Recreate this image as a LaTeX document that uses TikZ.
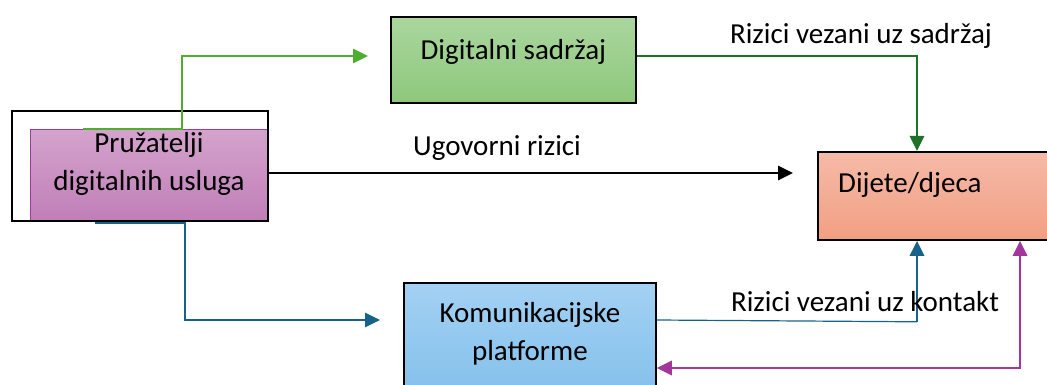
\documentclass[tikz,border=0pt]{standalone}
\usepackage{fontspec}
\setmainfont{Carlito}
\usetikzlibrary{arrows.meta,calc}

\definecolor{pruTop}{HTML}{D4A3CD}
\definecolor{pruBot}{HTML}{C07FB7}
\definecolor{pruLine}{HTML}{9C3C98}
\definecolor{digTop}{HTML}{AAD69E}
\definecolor{digBot}{HTML}{8EC87C}
\definecolor{dijTop}{HTML}{F5BAA8}
\definecolor{dijBot}{HTML}{F29F82}
\definecolor{komTop}{HTML}{A3D1F3}
\definecolor{komBot}{HTML}{7CBCE9}
\definecolor{lightGreen}{HTML}{4FAD30}
\definecolor{darkGreen}{HTML}{1F7029}
\definecolor{teal}{HTML}{17628A}
\definecolor{magenta}{HTML}{A3359B}

\tikzset{
  box/.style={rectangle, draw=black, line width=1.8pt, inner sep=0pt, anchor=north west},
  txt/.style={font=\fontsize{29}{38}\selectfont, align=center, inner sep=0pt},
  flow/.style={line width=2.8pt, -{Triangle[length=15pt,width=14pt]}},
}

\begin{document}
\begin{tikzpicture}[x=1pt,y=-1pt]
\useasboundingbox (0,0) rectangle (1047,385);
\clip (0,0) rectangle (1047,385);

% boxes
\node[box, draw=pruLine, line width=1pt, top color=pruTop, bottom color=pruBot,
      minimum width=237pt, minimum height=91pt,
      label={[txt, yshift=11pt]center:{Pružatelji\\digitalnih usluga}}] (pru) at (30,129) {};
\node[box, minimum width=256pt, minimum height=110pt] (pruFrame) at (11,110) {};
\node[box, top color=digTop, bottom color=digBot,
      minimum width=245pt, minimum height=86pt,
      label={[txt, yshift=8pt]center:{Digitalni sadržaj}}] (dig) at (390,16) {};
\node[box, top color=dijTop, bottom color=dijBot,
      minimum width=250pt, minimum height=88pt,
      label={[txt, anchor=west, xshift=21pt, yshift=11pt]west:{Dijete/djeca}}] (dij) at (817,151) {};
\node[box, top color=komTop, bottom color=komBot,
      minimum width=252pt, minimum height=140pt,
      label={[txt, yshift=19pt]center:{Komunikacijske\\platforme}}] (kom) at (403,282) {};

% connectors
\draw[flow, lightGreen] ($(pru.north west)+(53,0)$) -| ($(pru.north west)+(152,-73)$)
  -- ($(dig.north west)+(-22,40)$);
\draw[flow, darkGreen] ($(dig.north east)+(0,40)$) -| ($(dij.north west)+(100,0)$);
\draw[flow, black] ($(pru.north east)+(0,44)$) -- ($(dij.north west)+(-24,22)$);
\draw[flow, teal] ($(pru.south west)+(65,2)$) -- ($(pru.south west)+(155,2)$)
  |- ($(kom.north west)+(-23,38)$);
\draw[teal, line width=1.2pt] ($(kom.north east)+(0,38)$) -- ($(dij.south west)+(100,81)$) coordinate (kontakt);
\draw[flow, teal] (kontakt) -- ($(dij.south west)+(100,0)$);
\draw[flow, magenta, {Triangle[length=15pt,width=14pt]}-{Triangle[length=15pt,width=14pt]}]
  ($(kom.north east)+(0,86)$) -| ($(dij.south west)+(203,0)$);

% labels
\node[txt] (sadrzajRizik) at (861,36) {Rizici vezani uz sadržaj};
\node[txt] (ugovorRizik) at (497,148) {Ugovorni rizici};
\node[txt] (kontaktRizik) at (865,302) {Rizici vezani uz kontakt};
\end{tikzpicture}
\end{document}
